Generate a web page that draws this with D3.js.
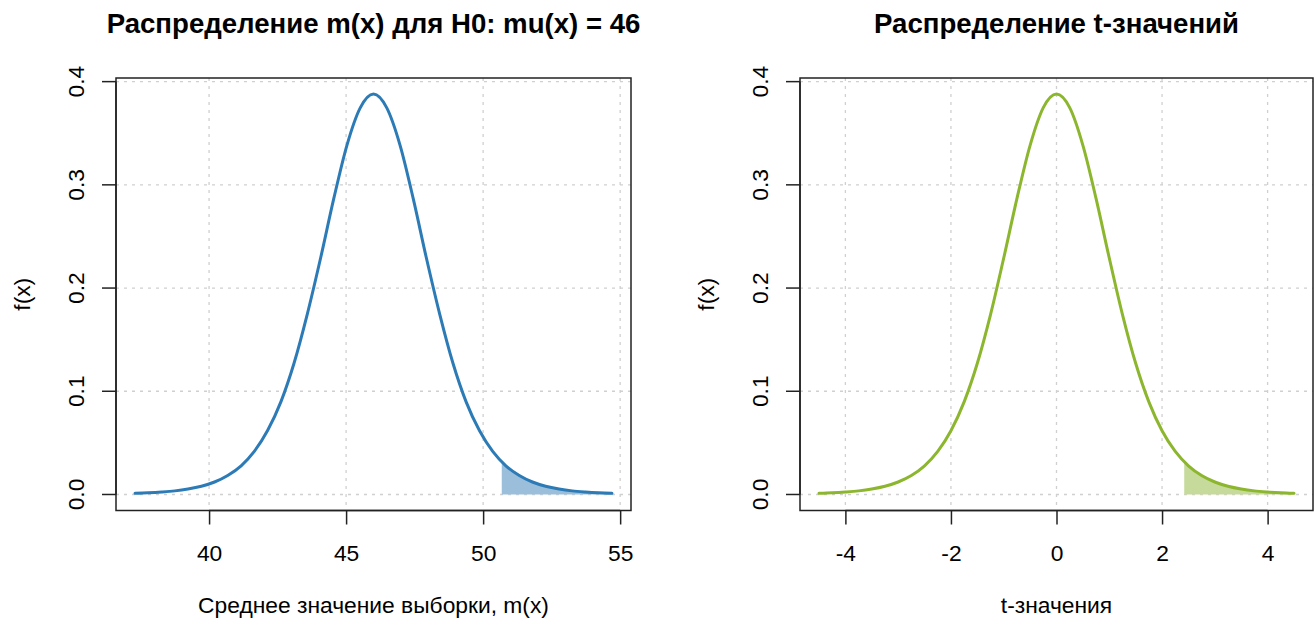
<!DOCTYPE html>
<html>
<head>
<meta charset="utf-8">
<script src="https://cdn.jsdelivr.net/npm/d3@7"></script>
<style>
	body { margin: 0; background: #ffffff; }
	svg text { font-family: "Liberation Sans", Arial, sans-serif; fill: #000000; }
</style>
</head>
<body>
<svg id="chart" width="1314" height="620"></svg>
<script>
//Values: t-values, matching sample means, density.
var tValues = [-4.5, -4.25, -4, -3.75, -3.5, -3.25, -3, -2.75, -2.5, -2.25, -2, -1.75, -1.5, -1.25, -1, -0.75, -0.5, -0.25, 0,
	0.25, 0.5, 0.75, 1, 1.25, 1.5, 1.75, 2, 2.25, 2.5, 2.75, 3, 3.25, 3.5, 3.75, 4, 4.25, 4.5];
var meanValues = [37.30, 37.78, 38.27, 38.75, 39.23, 39.72, 40.20, 40.68, 41.17, 41.65, 42.13, 42.62, 43.10, 43.58, 44.07, 44.55, 45.03, 45.52, 46.00,
	46.48, 46.97, 47.45, 47.93, 48.42, 48.90, 49.38, 49.87, 50.35, 50.83, 51.32, 51.80, 52.28, 52.77, 53.25, 53.73, 54.22, 54.70];
var densityValues = [0.0011, 0.0016, 0.0024, 0.0035, 0.0053, 0.0080, 0.0121, 0.0184, 0.0278, 0.0417, 0.0617, 0.0897, 0.1271, 0.1743, 0.2291, 0.2866, 0.3383, 0.3748, 0.3880,
	0.3748, 0.3383, 0.2866, 0.2291, 0.1743, 0.1271, 0.0897, 0.0617, 0.0417, 0.0278, 0.0184, 0.0121, 0.0080, 0.0053, 0.0035, 0.0024, 0.0016, 0.0011];

//Shaded right tail.
var shadeT = [2.42, 2.5, 2.75, 3, 3.25, 3.5, 3.75, 4, 4.25, 4.5];
var shadeMean = [50.68, 50.83, 51.32, 51.80, 52.28, 52.77, 53.25, 53.73, 54.22, 54.70];
var shadeDensity = [0.0317, 0.0278, 0.0184, 0.0121, 0.0080, 0.0053, 0.0035, 0.0024, 0.0016, 0.0011];

//Tick labels.
var yTicks = [0, 0.1, 0.2, 0.3, 0.4];
var meanTicks = [40, 45, 50, 55];
var tTicks = [-4, -2, 0, 2, 4];

var svg = d3.select("#chart");
var plotTop = 78, plotBottom = 510.5;
var labelSize = 22.8, titleSize = 27.6;

//R style limits: data range plus 4% on each side.
function padded(lo, hi){
	var pad = (hi - lo) * 0.04;
	return [lo - pad, hi + pad];
}

function drawPanel(opts){
	var x = d3.scaleLinear()
		.domain(padded(opts.xMin, opts.xMax))
		.range([opts.left, opts.right]);
	var y = d3.scaleLinear()
		.domain(padded(0, d3.max(densityValues)))
		.range([plotBottom, plotTop]);

	var g = svg.append("g");

	//Grid lines.
	g.selectAll(".vgrid")
		.data(opts.xTicks)
		.enter()
		.append("line")
		.attr("x1", function(d){ return x(d); })
		.attr("x2", function(d){ return x(d); })
		.attr("y1", plotTop)
		.attr("y2", plotBottom)
		.attr("stroke", "#d0d0d0")
		.attr("stroke-width", 1.3)
		.attr("stroke-dasharray", "3,5");
	g.selectAll(".hgrid")
		.data(yTicks)
		.enter()
		.append("line")
		.attr("x1", opts.left)
		.attr("x2", opts.right)
		.attr("y1", function(d){ return y(d); })
		.attr("y2", function(d){ return y(d); })
		.attr("stroke", "#d0d0d0")
		.attr("stroke-width", 1.3)
		.attr("stroke-dasharray", "3,5");

	//Shaded tail.
	var area = d3.area()
		.x(function(d){ return x(d[0]); })
		.y0(y(0))
		.y1(function(d){ return y(d[1]); })
		.curve(d3.curveMonotoneX);
	g.append("path")
		.datum(d3.zip(opts.shadeX, shadeDensity))
		.attr("d", area)
		.attr("fill", opts.fill);

	//Density curve.
	var line = d3.line()
		.x(function(d){ return x(d[0]); })
		.y(function(d){ return y(d[1]); })
		.curve(d3.curveMonotoneX);
	g.append("path")
		.datum(d3.zip(opts.xValues, densityValues))
		.attr("d", line)
		.attr("fill", "none")
		.attr("stroke", opts.color)
		.attr("stroke-width", 3)
		.attr("stroke-linejoin", "round")
		.attr("stroke-linecap", "round");

	//Box.
	g.append("rect")
		.attr("x", opts.left)
		.attr("y", plotTop)
		.attr("width", opts.right - opts.left)
		.attr("height", plotBottom - plotTop)
		.attr("fill", "none")
		.attr("stroke", "#222222")
		.attr("stroke-width", 1.5);

	//Bottom axis.
	var xAxis = d3.axisBottom(x)
		.tickValues(opts.xTicks)
		.tickSizeOuter(0)
		.tickSizeInner(14)
		.tickPadding(20)
		.tickFormat(function(d){ return d < 0 ? "-" + Math.abs(d) : String(d); });
	var xa = g.append("g")
		.attr("transform", "translate(0," + plotBottom + ")")
		.call(xAxis);
	xa.select(".domain")
		.attr("d", "M" + x(opts.xTicks[0]) + ",0H" + x(opts.xTicks[opts.xTicks.length - 1]))
		.attr("stroke", "#222222")
		.attr("stroke-width", 1.5);
	xa.selectAll(".tick line").attr("stroke", "#222222").attr("stroke-width", 1.5);
	xa.selectAll(".tick text")
		.attr("font-size", labelSize)
		.attr("font-family", "Liberation Sans, Arial, sans-serif")
		.attr("fill", "#000000");

	//Left axis with rotated labels.
	var ya = g.append("g")
		.attr("transform", "translate(" + opts.left + ",0)");
	ya.append("line")
		.attr("x1", 0)
		.attr("x2", 0)
		.attr("y1", y(0))
		.attr("y2", y(0.4))
		.attr("stroke", "#222222")
		.attr("stroke-width", 1.5);
	ya.selectAll(".ytick")
		.data(yTicks)
		.enter()
		.append("line")
		.attr("x1", -14)
		.attr("x2", 0)
		.attr("y1", function(d){ return y(d); })
		.attr("y2", function(d){ return y(d); })
		.attr("stroke", "#222222")
		.attr("stroke-width", 1.5);
	ya.selectAll(".ylabel")
		.data(yTicks)
		.enter()
		.append("text")
		.attr("transform", function(d){ return "translate(-32," + y(d) + ") rotate(-90)"; })
		.attr("text-anchor", "middle")
		.attr("font-size", labelSize)
		.text(function(d){ return d.toFixed(1); });

	//Titles.
	var cx = (opts.left + opts.right) / 2;
	svg.append("text")
		.attr("x", cx)
		.attr("y", 33)
		.attr("text-anchor", "middle")
		.attr("font-size", titleSize)
		.attr("font-weight", "bold")
		.text(opts.title);
	svg.append("text")
		.attr("x", cx)
		.attr("y", 613)
		.attr("text-anchor", "middle")
		.attr("font-size", labelSize)
		.text(opts.xLabel);
	svg.append("text")
		.attr("transform", "translate(" + (opts.left - 86) + "," + ((plotTop + plotBottom) / 2) + ") rotate(-90)")
		.attr("text-anchor", "middle")
		.attr("font-size", labelSize)
		.text("f(x)");
}

drawPanel({
	left: 116, right: 631,
	xMin: d3.min(meanValues), xMax: d3.max(meanValues),
	xValues: meanValues, shadeX: shadeMean, xTicks: meanTicks,
	color: "#2c7bb6", fill: "#9bbfdb",
	title: "Распределение m(x) для H0: mu(x) = 46",
	xLabel: "Среднее значение выборки, m(x)"
});

drawPanel({
	left: 800, right: 1313,
	xMin: d3.min(tValues), xMax: d3.max(tValues),
	xValues: tValues, shadeX: shadeT, xTicks: tTicks,
	color: "#8cb62e", fill: "#c6da9c",
	title: "Распределение t-значений",
	xLabel: "t-значения"
});
</script>
</body>
</html>
